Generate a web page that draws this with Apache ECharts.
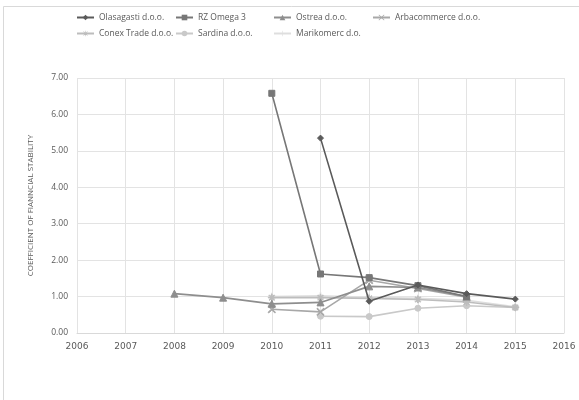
<!DOCTYPE html>
<html><head><meta charset="utf-8">
<script src="https://cdn.jsdelivr.net/npm/echarts@6/dist/echarts.min.js"></script>
<style>html,body{margin:0;padding:0;background:#fff}#c{width:579px;height:400px}</style>
</head><body><div id="c"></div>
<script>
const seriesNames = ["Olasagasti d.o.o.", "RZ Omega 3", "Ostrea d.o.o.", "Arbacommerce d.o.o.", "Conex Trade d.o.o.", "Sardina d.o.o.", "Marikomerc d.o."];
const olasagastiYears = [2011, 2012, 2013, 2014, 2015];
const olasagastiValues = [5.35, 0.87, 1.32, 1.08, 0.93];
const omegaYears = [2010, 2011, 2012, 2013, 2014];
const omegaValues = [6.58, 1.62, 1.52, 1.30, 1.00];
const ostreaYears = [2008, 2009, 2010, 2011, 2012, 2013, 2014];
const ostreaValues = [1.08, 0.97, 0.80, 0.84, 1.28, 1.25, 1.00];
const arbaYears = [2010, 2011, 2012, 2013, 2014];
const arbaValues = [0.65, 0.58, 1.45, 1.22, 0.98];
const conexYears = [2010, 2011, 2012, 2013, 2014, 2015];
const conexValues = [0.97, 0.97, 0.95, 0.92, 0.85, 0.70];
const sardinaYears = [2011, 2012, 2013, 2014, 2015];
const sardinaValues = [0.46, 0.45, 0.68, 0.75, 0.70];
const marikomercYears = [2010, 2011, 2012, 2013, 2014, 2015];
const marikomercValues = [1.00, 1.02, 0.98, 0.95, 0.90, 0.72];
const yTickLabels = ["0.00", "1.00", "2.00", "3.00", "4.00", "5.00", "6.00", "7.00"];

const pairs = (xs, ys) => xs.map((x, i) => [x, ys[i]]);
const allYears = [olasagastiYears, omegaYears, ostreaYears, arbaYears, conexYears, sardinaYears, marikomercYears];
const allValues = [olasagastiValues, omegaValues, ostreaValues, arbaValues, conexValues, sardinaValues, marikomercValues];
const colors = ["#5a5a5a", "#777777", "#8e8e8e", "#a8a8a8", "#bdbdbd", "#c9c9c9", "#dedede"];
const symbols = ["diamond", "rect", "triangle",
  "path://M0,0L1,0L5,4L9,0L10,0L10,1L6,5L10,9L10,10L9,10L5,6L1,10L0,10L0,9L4,5L0,1Z",
  "path://M4.5,0L5.5,0L5.5,4.5L10,4.5L10,5.5L5.5,5.5L5.5,10L4.5,10L4.5,5.5L0,5.5L0,4.5L4.5,4.5Z M1,1.7L1.7,1L9,8.3L8.3,9Z M8.3,1L9,1.7L1.7,9L1,8.3Z",
  "circle",
  "path://M4.5,0L5.5,0L5.5,4.5L10,4.5L10,5.5L5.5,5.5L5.5,10L4.5,10L4.5,5.5L0,5.5L0,4.5L4.5,4.5Z"];
const sizes = [6, 6, 7, 7, 7, 6, 7];

const legendPos = [[76, 13], [175, 13], [273, 13], [372, 13], [76, 29], [175, 29], [273, 29]];
const legends = seriesNames.map((n, i) => ({
  data: [n], left: legendPos[i][0], top: legendPos[i][1], itemWidth: 17, itemHeight: 7, itemGap: 4,
  textStyle: { fontSize: 8.5, color: "#595959", fontFamily: "Open Sans" }, padding: 0
}));

const chart = echarts.init(document.getElementById("c"), null, { renderer: "canvas" });
chart.setOption({
  animation: false,
  backgroundColor: "#fff",
  graphic: [{ type: "rect", shape: { x: 3.5, y: 6.5, width: 700, height: 500 }, style: { fill: "none", stroke: "#d9d9d9", lineWidth: 1 }, silent: true, z: -10 }],
  legend: legends,
  grid: { left: 77, right: 15, top: 78, bottom: 67 },
  xAxis: {
    type: "value", min: 2006, max: 2016, interval: 1,
    axisLine: { show: true, lineStyle: { color: "#d9d9d9" } },
    axisTick: { show: false },
    splitLine: { show: true, lineStyle: { color: "#e3e3e3" } },
    axisLabel: { color: "#595959", fontSize: 9, fontFamily: "DejaVu Sans", margin: 9, formatter: v => String(v) }
  },
  yAxis: {
    type: "value", min: 0, max: 7, interval: 1,
    name: "COEFFICIENT OF FIANNCIAL STABILITY", nameLocation: "middle", nameGap: 42, nameRotate: 90,
    nameTextStyle: { color: "#595959", fontSize: 8, fontFamily: "Open Sans" },
    axisLine: { show: false }, axisTick: { show: false },
    splitLine: { show: true, lineStyle: { color: "#e3e3e3" } },
    axisLabel: { color: "#595959", fontSize: 8.5, fontFamily: "Open Sans", margin: 9, formatter: v => yTickLabels[Math.round(v)] }
  },
  series: seriesNames.map((n, i) => ({
    name: n, type: "line", data: pairs(allYears[i], allValues[i]),
    symbol: symbols[i], symbolSize: sizes[i], showAllSymbol: true,
    lineStyle: { color: colors[i], width: 1.6 },
    itemStyle: { color: colors[i], borderColor: colors[i] },
    z: 10 - i
  }))
});
</script></body></html>
